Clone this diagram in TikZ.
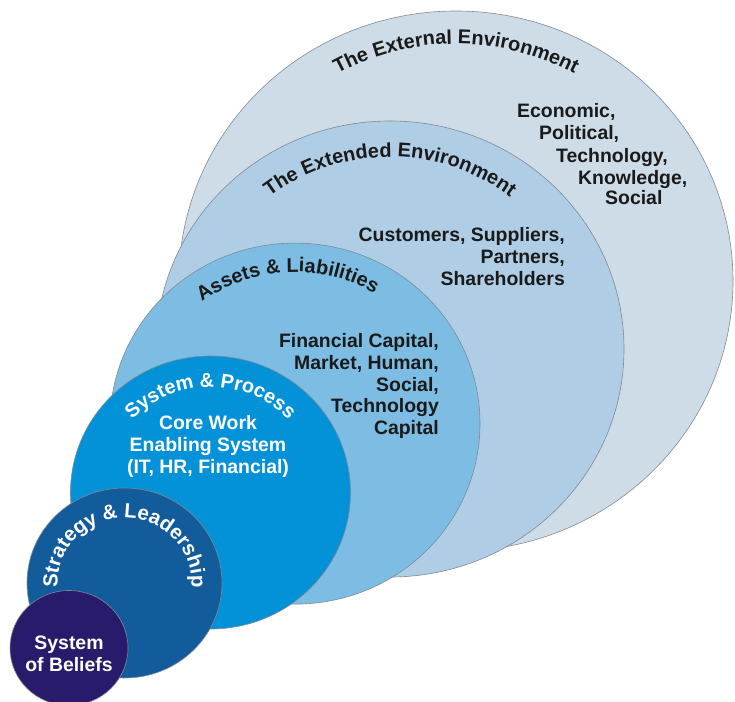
\documentclass[tikz,border=0pt]{standalone}
\usepackage{fontspec}
\setmainfont{Liberation Sans}
\usetikzlibrary{decorations.text}

\definecolor{externalfill}{HTML}{CDDCE7}
\definecolor{extendedfill}{HTML}{AFCEE6}
\definecolor{assetsfill}{HTML}{7DBDE3}
\definecolor{processfill}{HTML}{0392D8}
\definecolor{strategyfill}{HTML}{135C9C}
\definecolor{beliefsfill}{HTML}{291B6B}
\definecolor{ringline}{HTML}{7F8A94}
\definecolor{textdark}{HTML}{1A1A1A}

\newcommand{\bodyfont}{\fontsize{19.5}{22}\selectfont\bfseries}
\newcommand{\ringfont}{\fontsize{20}{24}\selectfont\bfseries}
\newcommand{\smallringfont}{\fontsize{20.5}{24}\selectfont\bfseries}

\tikzset{
  ring/.style={draw=ringline, line width=0.6pt},
  body/.style={font=\bodyfont, text=textdark, inner sep=0pt},
  bodylight/.style={body, text=white},
  arctext/.style={decorate, decoration={text along path, text align=center, text color=#1}},
}

\begin{document}
\begin{tikzpicture}[x=1bp, y=1bp]
  \useasboundingbox (0,0) rectangle (735,702);

  % centres of the rings
  \coordinate (extc) at (456,421);
  \coordinate (extdc) at (390,353);
  \coordinate (assc) at (295,278.4);
  \coordinate (procc) at (210.5,209.5);
  \coordinate (stratc) at (124.5,119);
  \coordinate (belc) at (69,54);

  % rings, largest first
  \draw[ring, fill=externalfill] (extc) ellipse [x radius=277, y radius=270];
  \draw[ring, fill=extendedfill] (extdc) ellipse [x radius=234, y radius=228];
  \draw[ring, fill=assetsfill] (assc) ellipse [x radius=185, y radius=180.5];
  \draw[ring, fill=processfill] (procc) ellipse [x radius=140, y radius=136.5];
  \draw[ring, fill=strategyfill] (stratc) ellipse [x radius=97.5, y radius=95];
  \draw[ring, fill=beliefsfill] (belc) ellipse [x radius=59, y radius=57.5];

  % curved ring titles
  \path[arctext=textdark, decoration={text={|\ringfont|The External Environment}}]
    (extc) ++(160:243 and 237) arc[start angle=160, end angle=20, x radius=243, y radius=237];
  \path[arctext=textdark, decoration={text={|\ringfont|The Extended Environment}}]
    (extdc) ++(160:197 and 192) arc[start angle=160, end angle=20, x radius=197, y radius=192];
  \path[arctext=textdark, decoration={text={|\ringfont|Assets {\&} Liabilities}}]
    (assc) ++(163:155.5 and 151.6) arc[start angle=163, end angle=23, x radius=155.5, y radius=151.6];
  \path[arctext=white, decoration={text={|\ringfont|System {\&} Process}}]
    (procc) ++(170:108 and 105.5) arc[start angle=170, end angle=10, x radius=108, y radius=105.5];
  \path[arctext=white, decoration={text={|\smallringfont|Strategy {\&} Leadership}}]
    (stratc) ++(215:67 and 65) arc[start angle=215, end angle=-35, x radius=67, y radius=65];

  % external environment
  \node[body, anchor=base west] (econ) at (517,584) {Economic,};
  \node[body, anchor=base west] (poli) at (539,562) {Political,};
  \node[body, anchor=base west] (tech) at (556,539) {Technology,};
  \node[body, anchor=base west] (know) at (578,517) {Knowledge,};
  \node[body, anchor=base west] (soci) at (605,497) {Social};

  % extended environment
  \node[body, anchor=base east] (cust) at (565,460) {Customers, Suppliers,};
  \node[body, anchor=base east] (part) at (565,438) {Partners,};
  \node[body, anchor=base east] (shar) at (565,416) {Shareholders};

  % assets and liabilities
  \node[body, anchor=base east] (fina) at (439,354) {Financial Capital,};
  \node[body, anchor=base east] (mark) at (439,332) {Market, Human,};
  \node[body, anchor=base east] (socl) at (439,310) {Social,};
  \node[body, anchor=base east] (tecc) at (439,289) {Technology};
  \node[body, anchor=base east] (capi) at (439,267) {Capital};

  % system and process
  \node[bodylight, anchor=base] (core) at (208,272) {Core Work};
  \node[bodylight, anchor=base] (enab) at (208,250) {Enabling System};
  \node[bodylight, anchor=base] (ithr) at (208,228) {(IT, HR, Financial)};

  % system of beliefs
  \node[bodylight, anchor=base] (syst) at (69,52) {System};
  \node[bodylight, anchor=base] (beli) at (69,30) {of Beliefs};
\end{tikzpicture}
\end{document}
